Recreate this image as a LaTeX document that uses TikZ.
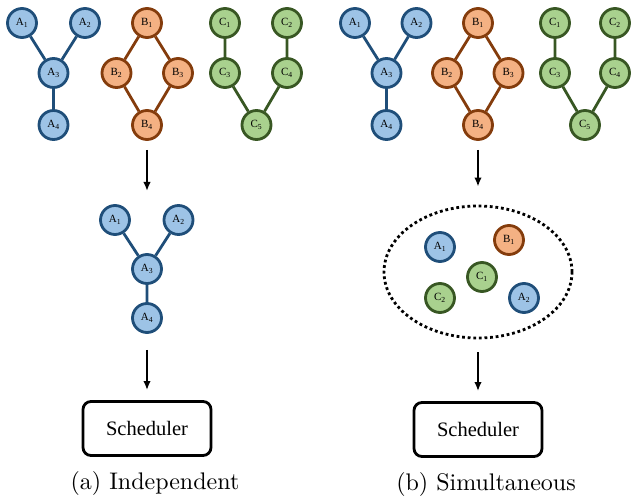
\documentclass[tikz,border=0pt]{standalone}
\usepackage{fontspec}
\usepackage{xcolor}
\usepackage{tikz}
\usetikzlibrary{arrows.meta,positioning,shapes.geometric}
\newfontfamily\tnr{Liberation Serif}
\definecolor{alight}{HTML}{9DC3E6}
\definecolor{adark}{HTML}{1F4E79}
\definecolor{blight}{HTML}{F4B183}
\definecolor{bdark}{HTML}{843C0C}
\definecolor{clight}{HTML}{A9D18E}
\definecolor{cdark}{HTML}{385723}
\tikzset{
  task/.style={
    circle,
    line width=2.8pt,
    minimum size=29pt,
    inner sep=0pt,
    font=\tnr\fontsize{11}{12}\selectfont
  },
  anode/.style={task, draw=adark, fill=alight},
  bnode/.style={task, draw=bdark, fill=blight},
  cnode/.style={task, draw=cdark, fill=clight},
  aedge/.style={draw=adark, line width=2.8pt},
  bedge/.style={draw=bdark, line width=2.8pt},
  cedge/.style={draw=cdark, line width=2.8pt},
  sched/.style={
    draw,
    rounded corners=8pt,
    line width=2.8pt,
    minimum width=128pt,
    minimum height=54pt,
    font=\tnr\fontsize{20.5}{24}\selectfont
  },
  pool/.style={ellipse, draw, line width=2.8pt, dash pattern=on 2.8pt off 2.8pt,
    minimum width=188pt, minimum height=132pt},
  caption/.style={inner sep=0pt, font=\normalsize},
  flow/.style={-{Latex[length=9pt,width=7.5pt]}, line width=2.7pt}
}
\begin{document}
\begin{tikzpicture}[x=1pt, y=-1pt]
  \useasboundingbox (0,0) rectangle (633,497);

  % (a) independent
  \node[anode] (lA1) at (22,23) {A\textsubscript{1}};
  \node[anode] (lA2) at (85,23) {A\textsubscript{2}};
  \node[anode] (lA3) at (53.5,73) {A\textsubscript{3}};
  \node[anode] (lA4) at (53.5,125) {A\textsubscript{4}};
  \node[bnode] (lB1) at (147,23) {B\textsubscript{1}};
  \node[bnode] (lB2) at (116.5,73) {B\textsubscript{2}};
  \node[bnode] (lB3) at (178,73) {B\textsubscript{3}};
  \node[bnode] (lB4) at (147,125) {B\textsubscript{4}};
  \node[cnode] (lC1) at (225,23) {C\textsubscript{1}};
  \node[cnode] (lC2) at (287,23) {C\textsubscript{2}};
  \node[cnode] (lC3) at (225,73) {C\textsubscript{3}};
  \node[cnode] (lC4) at (287,73) {C\textsubscript{4}};
  \node[cnode] (lC5) at (256.5,125) {C\textsubscript{5}};
  \draw[aedge] (lA1) -- (lA3) -- (lA4);
  \draw[aedge] (lA2) -- (lA3);
  \draw[bedge] (lB1) -- (lB2) -- (lB4) -- (lB3) -- (lB1);
  \draw[cedge] (lC1) -- (lC3) -- (lC5) -- (lC4) -- (lC2);

  \node[anode] (mA1) at (115,220) {A\textsubscript{1}};
  \node[anode] (mA2) at (178.5,220) {A\textsubscript{2}};
  \node[anode] (mA3) at (147,269) {A\textsubscript{3}};
  \node[anode] (mA4) at (147,318) {A\textsubscript{4}};
  \draw[aedge] (mA1) -- (mA3) -- (mA4);
  \draw[aedge] (mA2) -- (mA3);

  \node[sched] (lsched) at (147,428.5) {Scheduler};
  \node[caption] (lcap) at (155,484) {\scalebox{2.4}{(a) Independent}};
  \coordinate (ltop) at (147,191);
  \draw[flow, shorten <=9pt] (lB4) -- (ltop);
  \draw[flow, shorten <=16pt, shorten >=10pt] (mA4) -- (lsched);

  % (b) simultaneous
  \node[anode] (rA1) at (355,23) {A\textsubscript{1}};
  \node[anode] (rA2) at (416.5,23) {A\textsubscript{2}};
  \node[anode] (rA3) at (386.5,73) {A\textsubscript{3}};
  \node[anode] (rA4) at (386.5,125) {A\textsubscript{4}};
  \node[bnode] (rB1) at (478,23) {B\textsubscript{1}};
  \node[bnode] (rB2) at (447,73) {B\textsubscript{2}};
  \node[bnode] (rB3) at (508.5,73) {B\textsubscript{3}};
  \node[bnode] (rB4) at (478,125) {B\textsubscript{4}};
  \node[cnode] (rC1) at (555,23) {C\textsubscript{1}};
  \node[cnode] (rC2) at (615,23) {C\textsubscript{2}};
  \node[cnode] (rC3) at (555,73) {C\textsubscript{3}};
  \node[cnode] (rC4) at (615,73) {C\textsubscript{4}};
  \node[cnode] (rC5) at (585,125) {C\textsubscript{5}};
  \draw[aedge] (rA1) -- (rA3) -- (rA4);
  \draw[aedge] (rA2) -- (rA3);
  \draw[bedge] (rB1) -- (rB2) -- (rB4) -- (rB3) -- (rB1);
  \draw[cedge] (rC1) -- (rC3) -- (rC5) -- (rC4) -- (rC2);

  \node[pool] (ready) at (478,272) {};
  \node[anode] (pA1) at (440,247) {A\textsubscript{1}};
  \node[bnode] (pB1) at (509,240) {B\textsubscript{1}};
  \node[cnode] (pC1) at (482,277) {C\textsubscript{1}};
  \node[cnode] (pC2) at (440,298) {C\textsubscript{2}};
  \node[anode] (pA2) at (524,298) {A\textsubscript{2}};

  \node[sched] (rsched) at (478,429.5) {Scheduler};
  \node[caption] (rcap) at (486,485) {\scalebox{2.4}{(b) Simultaneous}};
  \draw[flow, shorten <=9pt, shorten >=18pt] (rB4) -- (ready);
  \draw[flow, shorten <=13pt, shorten >=10pt] (ready) -- (rsched);
\end{tikzpicture}
\end{document}
